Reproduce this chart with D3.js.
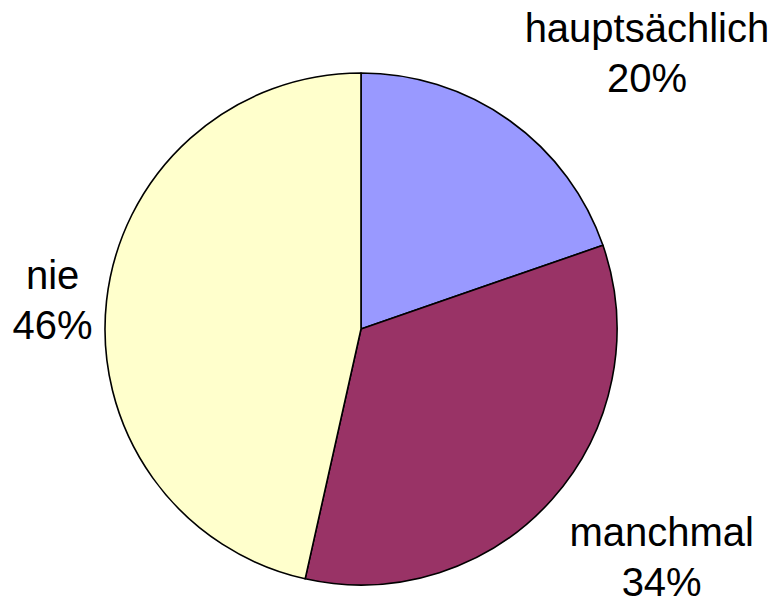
<!DOCTYPE html>
<html lang="de">
<head>
<meta charset="utf-8">
<title>Pie</title>
<script src="https://d3js.org/d3.v7.min.js"></script>
<style>
  body { margin: 0; background: #fff; }
  text { font-family: "Liberation Sans", Arial, sans-serif; }
</style>
</head>
<body>
<script>
var categories = ["hauptsächlich", "manchmal", "nie"];
var values = [19.7, 33.8, 46.5];
var pctLabels = ["20%", "34%", "46%"];
var colors = ["#9999FF", "#993366", "#FFFFCC"];

var w = 771, h = 603,
    cx = 361, cy = 329,
    radius = 256,
    fontSize = 40,
    lineH = 50;

var svg = d3.select("body").append("svg")
    .attr("width", w)
    .attr("height", h);

var g = svg.append("g")
    .attr("transform", "translate(" + cx + "," + cy + ")");

var data = categories.map(function(c, i) {
    return { name: c, val: values[i], pct: pctLabels[i], color: colors[i] };
});

var pie = d3.pie().sort(null).value(function(d) { return d.val; });
var arc = d3.arc().innerRadius(0).outerRadius(radius);

g.selectAll("path.slice")
    .data(pie(data))
    .enter().append("path")
    .attr("class", "slice")
    .attr("d", arc)
    .attr("fill", function(d) { return d.data.color; })
    .attr("stroke", "#000")
    .attr("stroke-width", 1.6)
    .attr("stroke-linejoin", "round");

// labels outside the pie, placed from the slice mid-angle
var labelR = radius + 14;
pie(data).forEach(function(d) {
    var a = (d.startAngle + d.endAngle) / 2;
    var px = Math.sin(a) * labelR,
        py = -Math.cos(a) * labelR;
    var lines = [d.data.name, d.data.pct];

    var texts = g.append("g").selectAll("text").data(lines).enter().append("text")
        .attr("font-size", fontSize)
        .attr("text-anchor", "middle")
        .attr("fill", "#000")
        .text(function(t) { return t; });

    var bw = d3.max(texts.nodes(), function(n) { return n.getComputedTextLength(); });
    var capH = fontSize * 0.72;
    var bh = capH + lineH * (lines.length - 1);

    var boxX = Math.sin(a) >= 0 ? px + 7 : px - bw;
    var c = Math.cos(a), top;
    if (Math.abs(c) < 0.3) top = py - bh / 2;
    else if (c > 0) top = py - bh - 17;
    else top = py + 8;

    texts.attr("x", boxX + bw / 2)
        .attr("y", function(t, i) { return top + capH + i * lineH; });
});
</script>
</body>
</html>
